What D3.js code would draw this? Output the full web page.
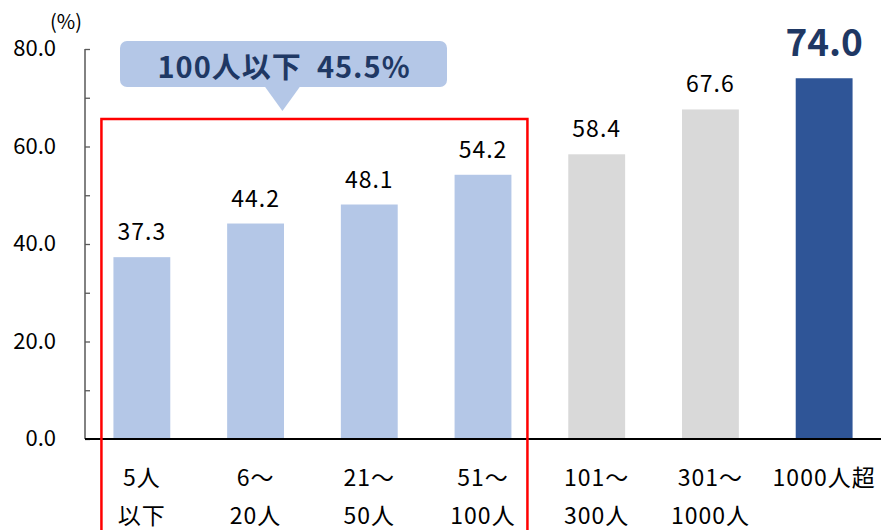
<!DOCTYPE html>
<html>
<head>
<meta charset="utf-8">
<script src="https://cdn.jsdelivr.net/npm/d3@7"></script>
<style>
  body { margin: 0; background: #fff; }
  text { font-family: "Noto Sans CJK JP", "Noto Sans", sans-serif; }
</style>
</head>
<body>
<div id="chart"></div>
<script>
// data
const categories = ["5人\n以下", "6～\n20人", "21～\n50人", "51～\n100人", "101～\n300人", "301～\n1000人", "1000人超"];
const values = [37.3, 44.2, 48.1, 54.2, 58.4, 67.6, 74.0];
const groups = ["small", "small", "small", "small", "mid", "mid", "large"];
const yTicks = [0, 20, 40, 60, 80];
const calloutText = "100人以下  45.5%";

const width = 881, height = 530;
const margin = {top: 49, right: 0, bottom: 91, left: 85};

const svg = d3.select("#chart")
    .append("svg")
    .attr("width", width)
    .attr("height", height);

// scales
const x = d3.scaleBand()
    .domain(categories)
    .range([margin.left, width - margin.right])
    .paddingInner(0.5)
    .paddingOuter(0.25);

const y = d3.scaleLinear()
    .domain([0, 80])
    .range([height - margin.bottom, margin.top]);

const color = {small: "#B4C7E7", mid: "#D9D9D9", large: "#2F5597"};

// y axis (ticks every 10, labels every 20)
const yAxis = svg.append("g")
    .attr("transform", `translate(${margin.left},0)`)
    .call(d3.axisRight(y).tickValues(d3.range(0, 81, 10)).tickSize(5).tickFormat(""));
yAxis.select(".domain").attr("stroke", "#595959").attr("stroke-width", 1.5).attr("d", `M0,${y(80)}V${y(0)}`);
yAxis.selectAll(".tick line").attr("stroke", "#595959").attr("stroke-width", 1.3);

svg.append("g")
    .selectAll("text")
    .data(yTicks)
    .join("text")
    .attr("x", 56)
    .attr("y", d => y(d) + 7)
    .attr("text-anchor", "end")
    .style("font-size", "22px")
    .attr("fill", "#000")
    .text(d => d.toFixed(1));

svg.append("text")
    .attr("x", 66)
    .attr("y", 29)
    .attr("text-anchor", "middle")
    .style("font-size", "20px")
    .text("(%)");

// bars
svg.selectAll("rect.bar")
    .data(values)
    .join("rect")
    .attr("class", "bar")
    .attr("x", (d, i) => x(categories[i]))
    .attr("y", d => y(d))
    .attr("width", x.bandwidth())
    .attr("height", d => y(0) - y(d))
    .attr("fill", (d, i) => color[groups[i]]);

// x axis baseline
svg.append("line")
    .attr("x1", margin.left)
    .attr("x2", width)
    .attr("y1", y(0))
    .attr("y2", y(0))
    .attr("stroke", "#000")
    .attr("stroke-width", 2);

// value labels
svg.selectAll("text.val")
    .data(values)
    .join("text")
    .attr("class", "val")
    .attr("x", (d, i) => x(categories[i]) + x.bandwidth() / 2)
    .attr("y", (d, i) => groups[i] == "large" ? y(d) - 22 : y(d) - 17)
    .attr("text-anchor", "middle")
    .style("font-size", (d, i) => groups[i] == "large" ? "37px" : "23px")
    .style("font-weight", (d, i) => groups[i] == "large" ? "bold" : "normal")
    .style("letter-spacing", (d, i) => groups[i] == "large" ? "0px" : "1px")
    .attr("fill", (d, i) => groups[i] == "large" ? "#1F3864" : "#000")
    .text(d => d.toFixed(1));

// category labels
const catLabels = svg.selectAll("text.cat")
    .data(categories)
    .join("text")
    .attr("class", "cat")
    .attr("text-anchor", "middle")
    .style("font-size", "23px")
    .style("letter-spacing", "1px")
    .attr("fill", "#000");
catLabels.each(function(d) {
    const cx = x(d) + x.bandwidth() / 2;
    d.split("\n").forEach((line, j) => {
        d3.select(this).append("tspan")
            .attr("x", cx)
            .attr("y", 486 + j * 38)
            .text(line);
    });
});

// red box around the small-company group
const x0 = x(categories[0]) - 12, x1 = x(categories[3]) + x.bandwidth() + 16;
svg.append("rect")
    .attr("x", x0)
    .attr("y", 119)
    .attr("width", x1 - x0)
    .attr("height", 430)
    .attr("fill", "none")
    .attr("stroke", "#FF0000")
    .attr("stroke-width", 2.5);

// callout
const cx = (x0 + x1) / 2 - 32;
svg.append("rect")
    .attr("x", 120)
    .attr("y", 41)
    .attr("width", 327)
    .attr("height", 46)
    .attr("rx", 7)
    .attr("fill", "#B4C7E7");
svg.append("path")
    .attr("d", `M${cx - 18},86 L${cx + 18},86 L${cx},111 Z`)
    .attr("fill", "#B4C7E7");
svg.append("text")
    .attr("x", 284)
    .attr("y", 78)
    .attr("text-anchor", "middle")
    .style("font-size", "29px")
    .style("font-weight", "bold")
    .style("letter-spacing", "1px")
    .attr("fill", "#1F3864")
    .attr("xml:space", "preserve")
    .style("white-space", "pre")
    .text(calloutText);
</script>
</body>
</html>
